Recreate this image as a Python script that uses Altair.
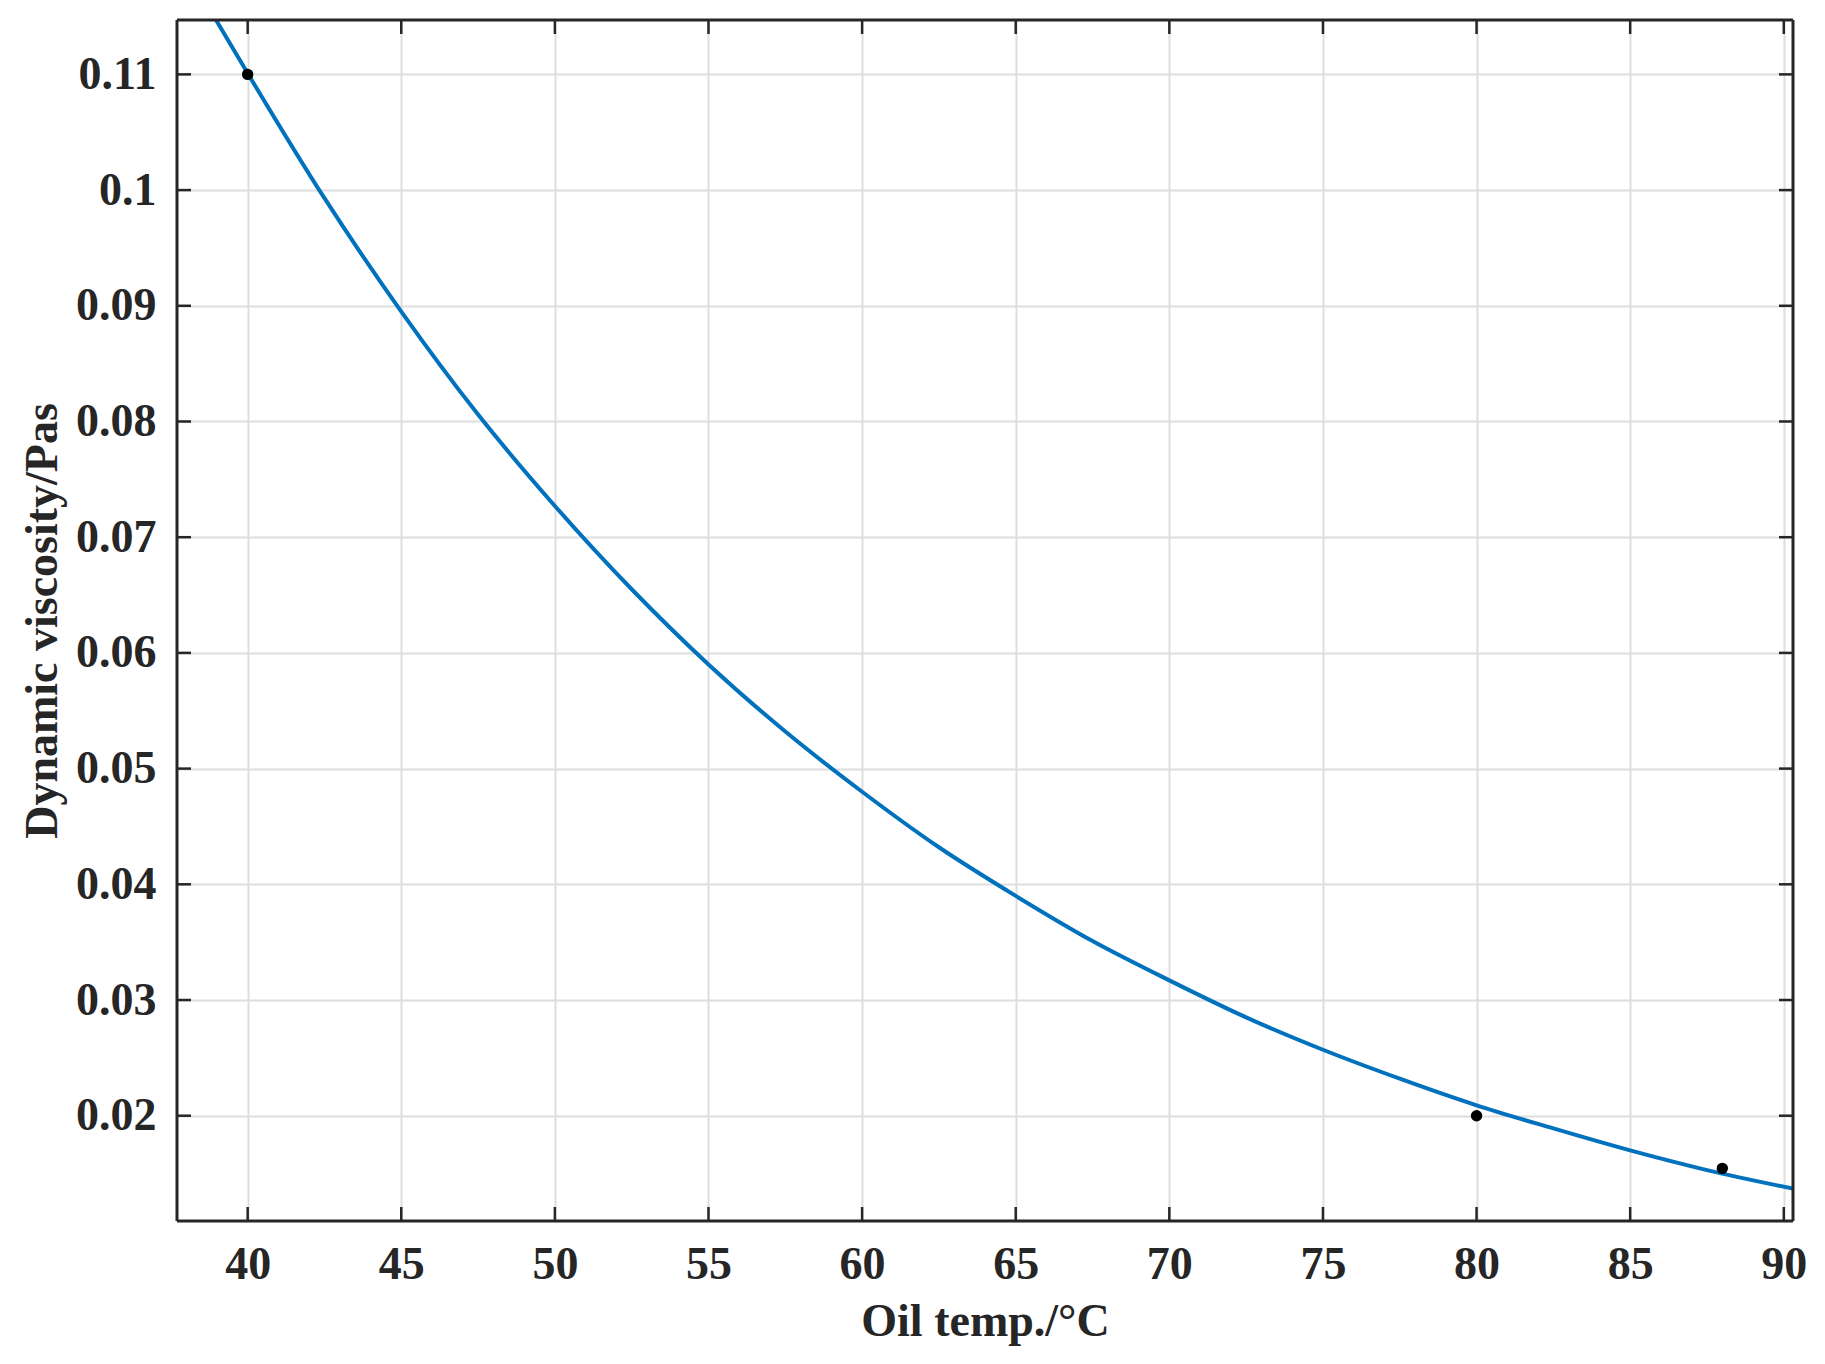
import altair as alt
import pandas as pd

# fitted curve
curve_temp = [38.97, 40, 42.5, 45, 47.5, 50, 52.5, 55, 57.5, 60, 62.5, 65, 67.5,
              70, 72.5, 75, 77.5, 80, 82.5, 85, 87.5, 90.3]
curve_visc = [0.1147, 0.1101, 0.0993, 0.0895, 0.0806, 0.0727, 0.0655, 0.0590,
              0.0532, 0.0480, 0.0432, 0.0390, 0.0351, 0.0317, 0.0285, 0.0257,
              0.0232, 0.0209, 0.0189, 0.0170, 0.0153, 0.0137]

# measured points
meas_temp = [40, 80, 88]
meas_visc = [0.110, 0.0200, 0.01545]

x_ticks = [40, 45, 50, 55, 60, 65, 70, 75, 80, 85, 90]
y_ticks = [0.02, 0.03, 0.04, 0.05, 0.06, 0.07, 0.08, 0.09, 0.10, 0.11]

X_DOMAIN = [37.7, 90.3]
Y_DOMAIN = [0.0109, 0.1147]

W, H = 1616, 1201
FONT = "Liberation Serif"
DARK = "#262626"
TICK = 14
FS = 46

curve_df = pd.DataFrame({"t": curve_temp, "v": curve_visc})
meas_df = pd.DataFrame({"t": meas_temp, "v": meas_visc})
xt_df = pd.DataFrame({"t": x_ticks})
yt_df = pd.DataFrame({"v": y_ticks})

xs = alt.Scale(domain=X_DOMAIN, nice=False, zero=False)
ys = alt.Scale(domain=Y_DOMAIN, nice=False, zero=False)

x_axis = alt.Axis(values=x_ticks, title="Oil temp./°C", grid=True, ticks=False,
                  domain=False, labelPadding=21, titlePadding=12,
                  labelFontSize=FS, titleFontSize=FS, labelFont=FONT, titleFont=FONT,
                  labelFontWeight="bold", titleFontWeight="bold",
                  labelColor=DARK, titleColor=DARK,
                  gridColor="#dedede", gridWidth=2)
y_axis = alt.Axis(values=y_ticks, title="Dynamic viscosity/Pas", grid=True, ticks=False,
                  domain=False, labelPadding=21, titlePadding=9,
                  labelFontSize=FS, titleFontSize=FS, labelFont=FONT, titleFont=FONT,
                  labelFontWeight="bold", titleFontWeight="bold",
                  labelColor=DARK, titleColor=DARK,
                  gridColor="#dedede", gridWidth=2,
                  labelExpr="format(datum.value, '.2~f')")

base_line = alt.Chart(curve_df).mark_line(color="#0072BD", strokeWidth=4, clip=True,
                                          interpolate="monotone").encode(
    x=alt.X("t:Q", scale=xs, axis=x_axis),
    y=alt.Y("v:Q", scale=ys, axis=y_axis),
)

pts = alt.Chart(meas_df).mark_point(filled=True, color="black", size=130, opacity=1).encode(
    x=alt.X("t:Q", scale=xs),
    y=alt.Y("v:Q", scale=ys),
)

RW = 2.5
xb = alt.Chart(xt_df).mark_rule(color=DARK, strokeWidth=RW).encode(
    x=alt.X("t:Q", scale=xs), y=alt.value(H), y2=alt.value(H - TICK))
xtop = alt.Chart(xt_df).mark_rule(color=DARK, strokeWidth=RW).encode(
    x=alt.X("t:Q", scale=xs), y=alt.value(0), y2=alt.value(TICK))
yl = alt.Chart(yt_df).mark_rule(color=DARK, strokeWidth=RW).encode(
    y=alt.Y("v:Q", scale=ys), x=alt.value(0), x2=alt.value(TICK))
yr = alt.Chart(yt_df).mark_rule(color=DARK, strokeWidth=RW).encode(
    y=alt.Y("v:Q", scale=ys), x=alt.value(W), x2=alt.value(W - TICK))

# frame
frame_df = pd.DataFrame({"k": [0]})
fb = alt.Chart(frame_df).mark_rule(color=DARK, strokeWidth=3).encode(
    x=alt.value(0), x2=alt.value(W), y=alt.value(H))
ft = alt.Chart(frame_df).mark_rule(color=DARK, strokeWidth=3).encode(
    x=alt.value(0), x2=alt.value(W), y=alt.value(0))
fl = alt.Chart(frame_df).mark_rule(color=DARK, strokeWidth=3).encode(
    y=alt.value(0), y2=alt.value(H), x=alt.value(0))
fr = alt.Chart(frame_df).mark_rule(color=DARK, strokeWidth=3).encode(
    y=alt.value(0), y2=alt.value(H), x=alt.value(W))

chart = alt.layer(base_line, pts, xb, xtop, yl, yr, fb, ft, fl, fr).properties(
    width=W, height=H,
    autosize=alt.AutoSizeParams(type="none"),
    padding={"left": 169, "top": 12, "right": 20, "bottom": 134},
).configure_view(stroke=None).configure(background="white")

chart.save("out.html", embed_options={"renderer": "svg", "actions": False})
